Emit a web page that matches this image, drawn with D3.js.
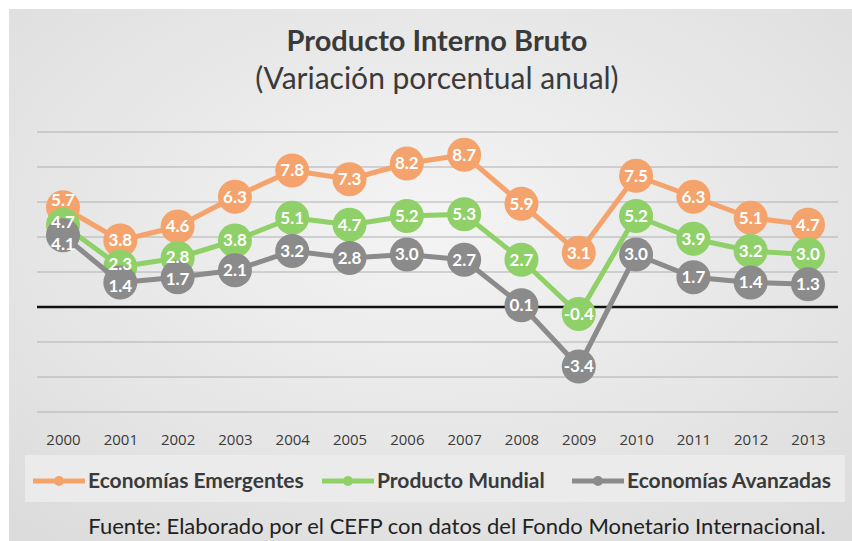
<!DOCTYPE html>
<html lang="es">
<head>
<meta charset="UTF-8">
<title>Producto Interno Bruto</title>
<script src="https://cdn.jsdelivr.net/npm/d3@7"></script>
<style>
  body { margin: 0; background: #fff; }
  svg { display: block; }
</style>
</head>
<body>
<div id="chart"></div>
<script>
// data
const years = ["2000","2001","2002","2003","2004","2005","2006","2007","2008","2009","2010","2011","2012","2013"];
const emergentes = [5.7, 3.8, 4.6, 6.3, 7.8, 7.3, 8.2, 8.7, 5.9, 3.1, 7.5, 6.3, 5.1, 4.7];
const mundial    = [4.7, 2.3, 2.8, 3.8, 5.1, 4.7, 5.2, 5.3, 2.7, -0.4, 5.2, 3.9, 3.2, 3.0];
const avanzadas  = [4.1, 1.4, 1.7, 2.1, 3.2, 2.8, 3.0, 2.7, 0.1, -3.4, 3.0, 1.7, 1.4, 1.3];
const gridTicks  = [-6, -4, -2, 0, 2, 4, 6, 8, 10];

const series = [
  {name: "Economías Emergentes", values: emergentes, color: "#f5a36c"},
  {name: "Producto Mundial",     values: mundial,    color: "#8fd068"},
  {name: "Economías Avanzadas",  values: avanzadas,  color: "#8b8b8b"}
];

const W = 852, H = 541;
const svg = d3.select("#chart").append("svg")
    .attr("width", W)
    .attr("height", H);

// background with soft radial shading
const defs = svg.append("defs");
const grad = defs.append("radialGradient").attr("id", "bg")
    .attr("cx", "50%").attr("cy", "40%").attr("r", "75%");
grad.append("stop").attr("offset", "0%").attr("stop-color", "#f4f4f4");
grad.append("stop").attr("offset", "100%").attr("stop-color", "#dcdcdc");

svg.append("rect").attr("width", W).attr("height", H).attr("fill", "#ffffff");
svg.append("rect")
    .attr("x", 9).attr("y", 9)
    .attr("width", W - 9).attr("height", H - 9)
    .attr("fill", "url(#bg)");

// titles
svg.append("text")
    .attr("x", 437).attr("y", 51)
    .attr("text-anchor", "middle")
    .style("font-family", "Lato, 'Open Sans', sans-serif")
    .style("font-weight", "bold")
    .style("font-size", "29px")
    .style("fill", "#3a3a3a")
    .text("Producto Interno Bruto");

svg.append("text")
    .attr("x", 437).attr("y", 89)
    .attr("text-anchor", "middle")
    .style("font-family", "Lato, 'Open Sans', sans-serif")
    .style("font-size", "30px")
    .style("fill", "#3a3a3a")
    .text("(Variación porcentual anual)");

// scales
const x = d3.scalePoint()
    .domain(years)
    .range([63, 808]);
const y = d3.scaleLinear()
    .domain([-6, 10])
    .range([412, 132]);

// gridlines
svg.append("g").selectAll("line")
    .data(gridTicks)
    .join("line")
    .attr("x1", 37).attr("x2", 838)
    .attr("y1", d => y(d)).attr("y2", d => y(d))
    .attr("stroke", d => d === 0 ? "#111" : "#b0b0b0")
    .attr("stroke-width", d => d === 0 ? 2.5 : 1);

// year labels via bottom axis
const xAxis = svg.append("g")
    .attr("transform", `translate(0,${y(-6)})`)
    .call(d3.axisBottom(x).tickSize(0).tickPadding(22));
xAxis.select(".domain").remove();
xAxis.selectAll("text")
    .style("font-family", "'Liberation Sans Narrow', 'Open Sans', sans-serif")
    .style("font-size", "15px")
    .style("fill", "#3a3a3a");

// lines and markers
const line = d3.line()
    .x((d, i) => x(years[i]))
    .y(d => y(d));

series.forEach(s => {
  const g = svg.append("g");
  g.append("path")
      .datum(s.values)
      .attr("d", line)
      .attr("fill", "none")
      .attr("stroke", s.color)
      .attr("stroke-width", 5)
      .attr("stroke-linejoin", "round");
  g.selectAll("circle")
      .data(s.values)
      .join("circle")
      .attr("cx", (d, i) => x(years[i]))
      .attr("cy", d => y(d))
      .attr("r", 17)
      .attr("fill", s.color);
});

// data labels: drawn last, nudged apart when they would collide
const minGap = 22;
const labels = [];
years.forEach((yr, i) => {
  const col = series.map(s => ({yr, v: s.values[i], ly: y(s.values[i])}))
      .sort((a, b) => a.ly - b.ly);
  for (let it = 0; it < 10; it++) {
    for (let k = 0; k < col.length - 1; k++) {
      const gap = col[k + 1].ly - col[k].ly;
      if (gap < minGap) {
        const d = (minGap - gap) / 2;
        col[k].ly -= d;
        col[k + 1].ly += d;
      }
    }
  }
  labels.push(...col);
});

svg.append("g").selectAll("text")
    .data(labels)
    .join("text")
    .attr("x", d => x(d.yr))
    .attr("y", d => d.ly)
    .attr("dy", "0.35em")
    .attr("text-anchor", "middle")
    .style("font-family", "Lato, 'Open Sans', sans-serif")
    .style("font-weight", "bold")
    .style("font-size", "17px")
    .style("fill", "#ffffff")
    .text(d => d.v.toFixed(1));

// legend
svg.append("rect")
    .attr("x", 25).attr("y", 455)
    .attr("width", 820).attr("height", 47)
    .attr("fill", "#ebebeb");

const legendX = [33, 322, 572];
series.forEach((s, i) => {
  const lg = svg.append("g").attr("transform", `translate(${legendX[i]},481)`);
  lg.append("line")
      .attr("x1", 0).attr("x2", 52)
      .attr("stroke", s.color)
      .attr("stroke-width", 5);
  lg.append("circle")
      .attr("cx", 26).attr("r", 5)
      .attr("fill", s.color);
  lg.append("text")
      .attr("x", 55).attr("y", 7)
      .style("font-family", "Lato, 'Open Sans', sans-serif")
      .style("font-weight", "bold")
      .style("font-size", "21px")
      .style("fill", "#3a3a3a")
      .text(s.name);
});

// source
svg.append("text")
    .attr("x", 457).attr("y", 534)
    .attr("text-anchor", "middle")
    .style("font-family", "Lato, 'Open Sans', sans-serif")
    .style("font-size", "22px")
    .style("fill", "#222")
    .text("Fuente: Elaborado por el CEFP con datos del Fondo Monetario Internacional.");
</script>
</body>
</html>
